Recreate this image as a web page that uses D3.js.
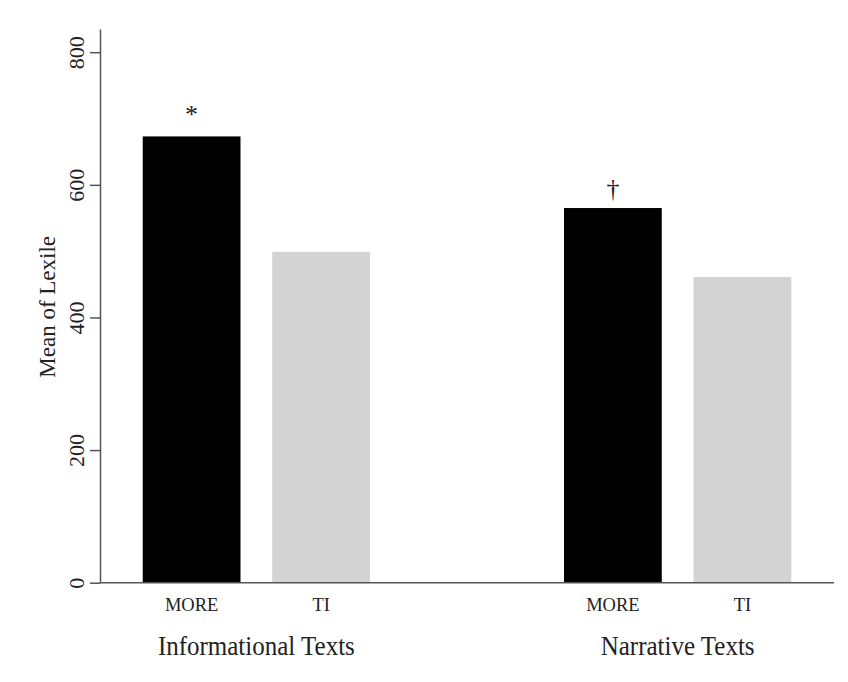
<!DOCTYPE html>
<html>
<head>
<meta charset="utf-8">
<script src="https://cdn.jsdelivr.net/npm/d3@7"></script>
<style>
  html, body { margin: 0; padding: 0; background: #fff; }
  svg { display: block; }
  text { font-family: "Liberation Serif", "Times New Roman", serif; fill: #222; }
</style>
</head>
<body>
<svg id="chart" width="848" height="682"></svg>
<script>
// ---- data ----
const groups = ["Informational Texts", "Narrative Texts"];
const conditions = ["MORE", "TI"];
const valuesMORE = [673, 565];
const valuesTI = [499, 461];
const markers = ["*", "\u2020"];           // significance marks above MORE bars
const yTicks = [0, 200, 400, 600, 800];
const yLabel = "Mean of Lexile";
const colors = { MORE: "#000000", TI: "#d3d3d3" };

const data = groups.flatMap((g, i) => [
  { group: g, cond: "MORE", value: valuesMORE[i], mark: markers[i] },
  { group: g, cond: "TI", value: valuesTI[i], mark: "" }
]);

// ---- layout ----
const svg = d3.select("#chart");
const plotLeft = 100, plotRight = 834, plotBottom = 582.7, plotTop = 29;

const x0 = d3.scaleBand().domain(groups).range([plotLeft, plotRight])
  .paddingInner(0.4605).paddingOuter(0.1014);
const x1 = d3.scaleBand().domain(conditions).range([0, x0.bandwidth()])
  .paddingInner(0.245).paddingOuter(0);
const y = d3.scaleLinear().domain([0, 835]).range([plotBottom, plotTop]);

// bars
svg.append("g").selectAll("rect").data(data).join("rect")
  .attr("x", d => x0(d.group) + x1(d.cond))
  .attr("y", d => y(d.value))
  .attr("width", x1.bandwidth())
  .attr("height", d => y(0) - y(d.value))
  .attr("fill", d => colors[d.cond]);

// significance markers
svg.append("g").selectAll("text").data(data.filter(d => d.mark)).join("text")
  .attr("x", d => x0(d.group) + x1(d.cond) + x1.bandwidth() / 2)
  .attr("y", d => y(d.value) - (d.mark === "*" ? 13 : 11))
  .attr("text-anchor", "middle")
  .attr("font-size", 26)
  .text(d => d.mark);

// y axis
const yAxis = svg.append("g").attr("transform", `translate(${plotLeft},0)`)
  .call(d3.axisLeft(y).tickValues(yTicks).tickSize(10).tickSizeOuter(0).tickPadding(0));
yAxis.select(".domain").attr("stroke", "#555").attr("stroke-width", 1.5);
yAxis.selectAll(".tick line").attr("stroke", "#555").attr("stroke-width", 1.5);
yAxis.selectAll(".tick text")
  .attr("font-family", "Liberation Serif, serif")
  .attr("font-size", 22)
  .attr("fill", "#222")
  .attr("text-anchor", "middle")
  .attr("transform", "translate(-24,0) rotate(-90)")
  .attr("x", 0).attr("y", 0)
  .attr("dy", "0.35em");

// x axis baseline
svg.append("line")
  .attr("x1", plotLeft).attr("x2", plotRight)
  .attr("y1", y(0)).attr("y2", y(0))
  .attr("stroke", "#555").attr("stroke-width", 1.5);

// condition labels
svg.append("g").selectAll("text").data(data).join("text")
  .attr("x", d => x0(d.group) + x1(d.cond) + x1.bandwidth() / 2)
  .attr("y", y(0) + 22)
  .attr("dy", "0.35em")
  .attr("text-anchor", "middle")
  .attr("font-size", 18.5)
  .text(d => d.cond);

// group labels
svg.append("g").selectAll("text").data(groups).join("text")
  .attr("transform", d => `translate(${x0(d) + x0.bandwidth() / 2},${y(0) + 72}) scale(1,1.1)`)
  .attr("text-anchor", "middle")
  .attr("font-size", 25)
  .text(d => d);

// y label
svg.append("text")
  .attr("transform", `translate(47,${(y(0) + y(835)) / 2 + 1}) rotate(-90)`)
  .attr("dy", "0.35em")
  .attr("text-anchor", "middle")
  .attr("font-size", 23)
  .text(yLabel);
</script>
</body>
</html>
